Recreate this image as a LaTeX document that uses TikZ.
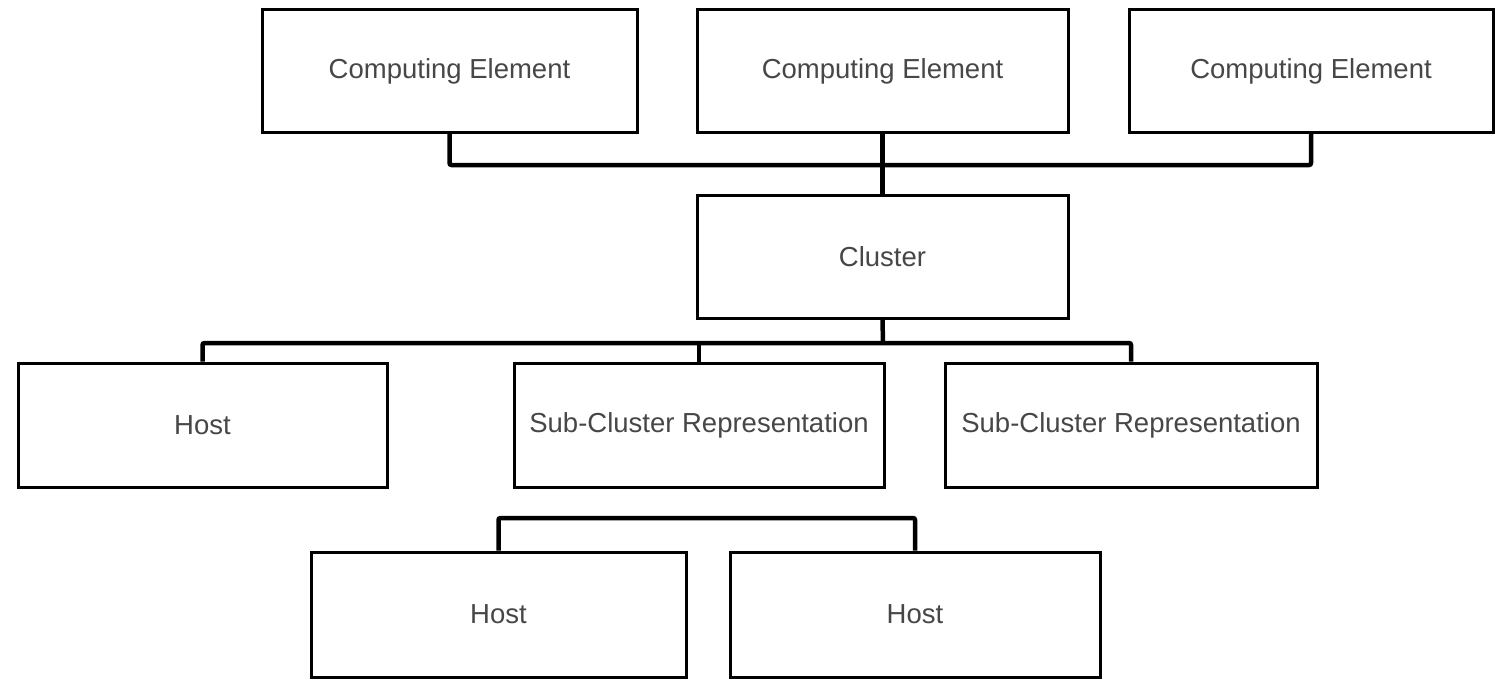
\documentclass[tikz,border=0pt]{standalone}
\usepackage{fontspec}
\setmainfont{Liberation Sans}
\begin{document}
\begin{tikzpicture}[x=1pt,y=-1pt,
  box/.style={draw=black,line width=3pt,fill=white,rectangle,inner sep=0pt,
    minimum height=122pt,text=black!72,font=\fontsize{27.5}{32}\selectfont},
  wire/.style={line width=4.5pt,black,rounded corners=2pt}]
\useasboundingbox (0,0) rectangle (1495,682);
\node[box,minimum width=375pt] (ce1) at (449.5,71) {Computing Element};
\node[box,minimum width=371pt] (ce2) at (882.5,71) {Computing Element};
\node[box,minimum width=364pt] (ce3) at (1311,71) {Computing Element};
\node[box,minimum width=371pt,minimum height=123pt] (cl) at (882.5,256.5) {Cluster};
\node[box,minimum width=369pt,minimum height=124pt] (h1) at (202.5,425) {Host};
\node[box,minimum width=370pt,minimum height=124pt] (sc1) at (699,425) {Sub-Cluster Representation};
\node[box,minimum width=372pt,minimum height=124pt] (sc2) at (1131,425) {Sub-Cluster Representation};
\node[box,minimum width=375pt,minimum height=125pt] (h2) at (498.5,614.5) {Host};
\node[box,minimum width=370pt,minimum height=125pt] (h3) at (915,614.5) {Host};
\coordinate (bt) at (883,165);
\coordinate (bm) at (883,343);
\coordinate (bb) at (700,518);
\draw[wire] (ce1.south) |- (bt) -| (ce3.south);
\draw[wire] (ce2.south) -- (cl.north);
\draw[wire] (h1.north) |- (bm) -| (sc2.north);
\draw[wire] (cl.south) -- (bm);
\draw[wire] (sc1.north) -- (sc1.north |- bm);
\draw[wire] (h2.north) |- (bb) -| (h3.north);
\end{tikzpicture}
\end{document}
